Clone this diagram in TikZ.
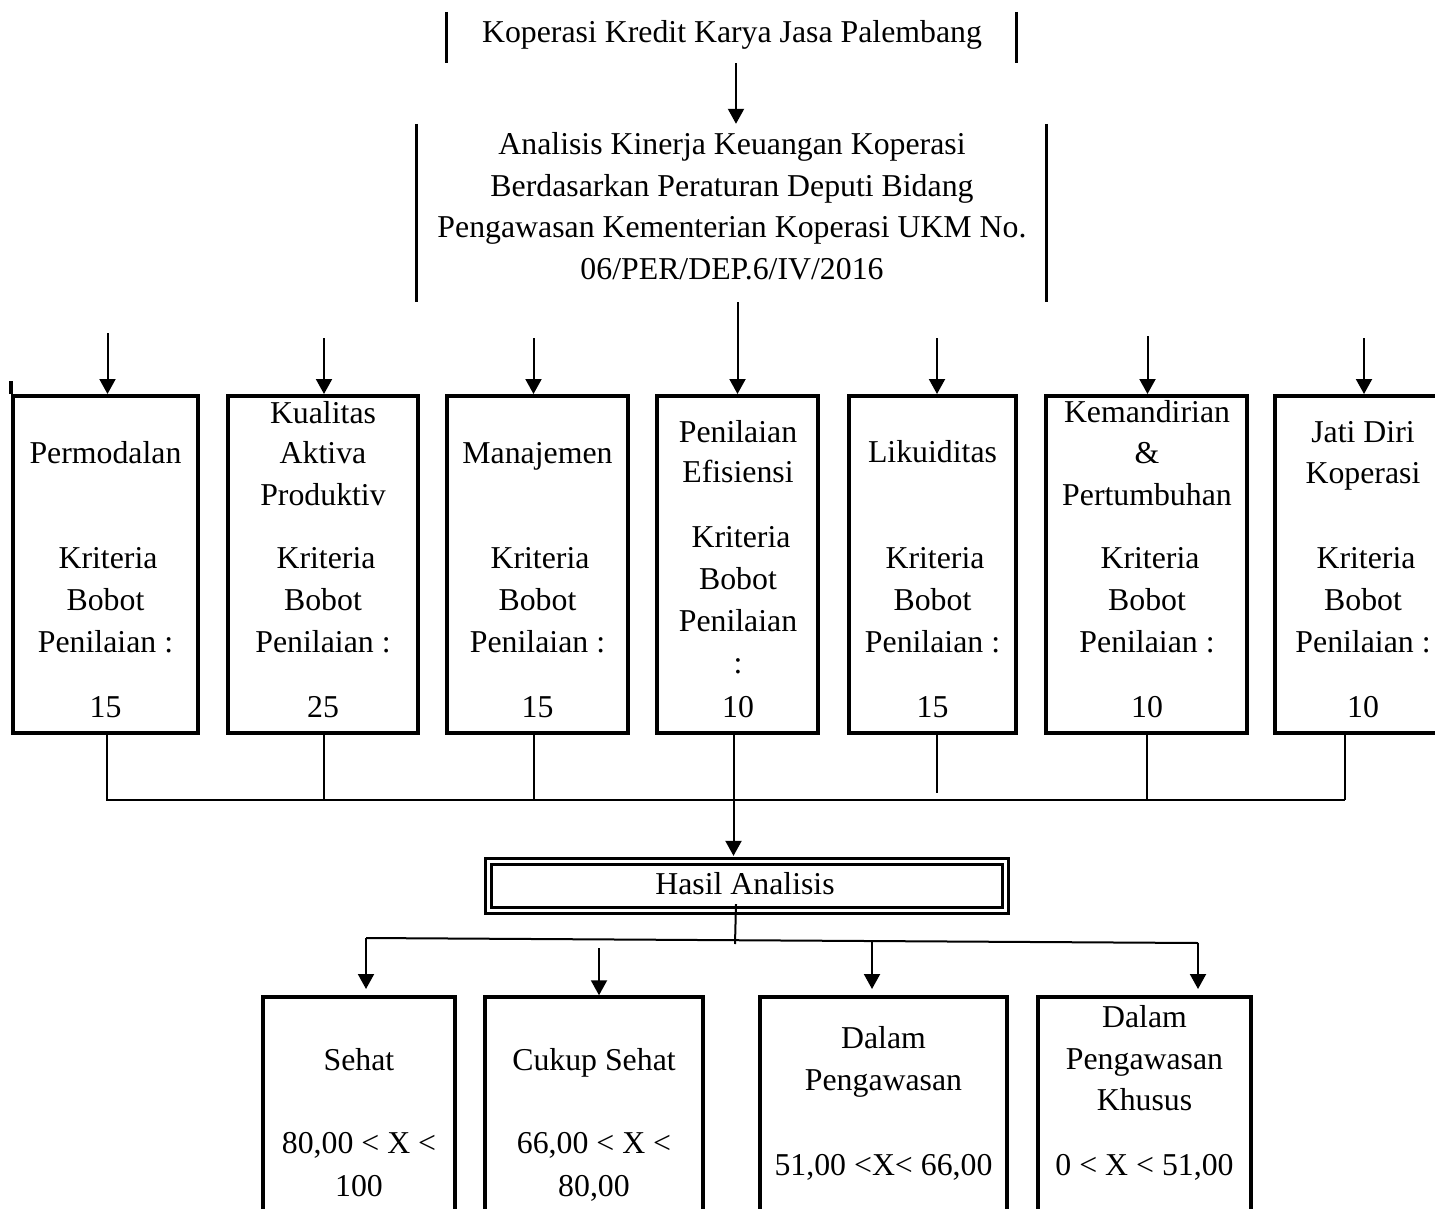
\documentclass[tikz,border=0pt]{standalone}
\usepackage{fontspec}
\setmainfont{Liberation Serif}
\usetikzlibrary{arrows.meta}
\begin{document}
\begin{tikzpicture}[x=1pt,y=-1pt,
  txt/.style={inner sep=0pt, anchor=base, font=\fontsize{31.8}{42}\selectfont},
  mbox/.style={draw, line width=4pt, minimum height=337pt, inner sep=0pt},
  sbox/.style={draw, line width=3.5pt, minimum height=243pt, inner sep=0pt},
  frame/.style={minimum width=#1, inner sep=0pt},
  bar/.style={line width=3.2pt},
  conn/.style={line width=2pt},
  arr/.style={line width=2pt, -{Triangle[length=15pt,width=16pt]}},
]
\useasboundingbox (0,0) rectangle (1435,1209);
\fill[white] (0,0) rectangle (1435,1209);
\clip (0,0) rectangle (1435,1209);

% ---------- top block ----------
\node[frame=569pt, minimum height=51pt] (top) at (731.5,37.5) {};
\draw[bar] (top.north west) -- (top.south west);
\draw[bar] (top.north east) -- (top.south east);
\node[txt] (toptext) at (732,43) {Koperasi Kredit Karya Jasa Palembang};

% ---------- second block ----------
\node[frame=629pt, minimum height=178pt] (mid) at (731.5,213) {};
\draw[bar] (mid.north west) -- (mid.south west);
\draw[bar] (mid.north east) -- (mid.south east);
\node[txt] (m1) at (732,155) {Analisis Kinerja Keuangan Koperasi};
\node[txt] (m2) at (732,197) {Berdasarkan Peraturan Deputi Bidang};
\node[txt] (m3) at (732,238) {Pengawasan Kementerian Koperasi UKM No.};
\node[txt] (m4) at (732,279) {06/PER/DEP.6/IV/2016};

\draw[arr] ([xshift=4.5pt]top.south) -- ([xshift=4.5pt]mid.north);

% ---------- criteria boxes ----------
\node[mbox, minimum width=185pt] (b1) at (105.5,564.5) {};
\node[mbox, minimum width=190pt] (b2) at (323,564.5) {};
\node[mbox, minimum width=181pt] (b3) at (537.5,564.5) {};
\node[mbox, minimum width=161pt] (b4) at (737.5,564.5) {};
\node[mbox, minimum width=167pt] (b5) at (932.5,564.5) {};
\node[mbox, minimum width=201pt] (b6) at (1146.5,564.5) {};
\node[mbox, minimum width=178pt] (b7) at (1364,564.5) {};
\draw[line width=4pt] (b1.north west) -- ++(0,-13);

% box 1
\node[txt] (b1a) at (105.5,463) {Permodalan};
\node[txt] (b1b) at (108,568) {Kriteria};
\node[txt] (b1c) at (105.5,610) {Bobot};
\node[txt] (b1d) at (105.5,652) {Penilaian :};
\node[txt] (b1e) at (105.5,717) {15};
% box 2
\node[txt] (b2a) at (323,423) {Kualitas};
\node[txt] (b2b) at (323,463) {Aktiva};
\node[txt] (b2c) at (323,505) {Produktiv};
\node[txt] (b2d) at (326,568) {Kriteria};
\node[txt] (b2e) at (323,610) {Bobot};
\node[txt] (b2f) at (323,652) {Penilaian :};
\node[txt] (b2g) at (323,717) {25};
% box 3
\node[txt] (b3a) at (537.5,463) {Manajemen};
\node[txt] (b3b) at (540,568) {Kriteria};
\node[txt] (b3c) at (537.5,610) {Bobot};
\node[txt] (b3d) at (537.5,652) {Penilaian :};
\node[txt] (b3e) at (537.5,717) {15};
% box 4
\node[txt] (b4a) at (738,442) {Penilaian};
\node[txt] (b4b) at (738,482) {Efisiensi};
\node[txt] (b4c) at (741,547) {Kriteria};
\node[txt] (b4d) at (738,589) {Bobot};
\node[txt] (b4e) at (738,631) {Penilaian};
\node[txt] (b4f) at (738,673) {:};
\node[txt] (b4g) at (738,717) {10};
% box 5
\node[txt] (b5a) at (932.5,462) {Likuiditas};
\node[txt] (b5b) at (935,568) {Kriteria};
\node[txt] (b5c) at (932.5,610) {Bobot};
\node[txt] (b5d) at (932.5,652) {Penilaian :};
\node[txt] (b5e) at (932.5,717) {15};
% box 6
\node[txt] (b6a) at (1147,422) {Kemandirian};
\node[txt] (b6b) at (1147,463) {\&};
\node[txt] (b6c) at (1147,505) {Pertumbuhan};
\node[txt] (b6d) at (1150,568) {Kriteria};
\node[txt] (b6e) at (1147,610) {Bobot};
\node[txt] (b6f) at (1147,652) {Penilaian :};
\node[txt] (b6g) at (1147,717) {10};
% box 7
\node[txt] (b7a) at (1363,442) {Jati Diri};
\node[txt] (b7b) at (1363,483) {Koperasi};
\node[txt] (b7c) at (1366,568) {Kriteria};
\node[txt] (b7d) at (1363,610) {Bobot};
\node[txt] (b7e) at (1363,652) {Penilaian :};
\node[txt] (b7f) at (1363,717) {10};

% arrows into criteria boxes
\draw[arr] ([xshift=2pt,yshift=61pt]b1.north) -- ([xshift=2pt]b1.north);
\draw[arr] ([xshift=1pt,yshift=56pt]b2.north) -- ([xshift=1pt]b2.north);
\draw[arr] ([xshift=-4pt,yshift=56pt]b3.north) -- ([xshift=-4pt]b3.north);
\draw[arr] (b4.north |- mid.south) -- (b4.north);
\draw[arr] ([xshift=4.5pt,yshift=56pt]b5.north) -- ([xshift=4.5pt]b5.north);
\draw[arr] ([xshift=1pt,yshift=58pt]b6.north) -- ([xshift=1pt]b6.north);
\draw[arr] ([yshift=56pt]b7.north) -- (b7.north);

% collecting lines
\coordinate (hl) at (0,800);
\coordinate (hr) at (1345,800);
\draw[conn] ([xshift=1.5pt]b1.south) -- ([xshift=1.5pt]b1.south |- hl) -- (hr);
\draw[conn] ([xshift=1pt]b2.south) -- ([xshift=1pt]b2.south |- hl);
\draw[conn] ([xshift=-3.5pt]b3.south) -- ([xshift=-3.5pt]b3.south |- hl);
\draw[conn] ([xshift=4.5pt]b5.south) -- ([xshift=4.5pt,yshift=7pt]b5.south |- hl);
\draw[conn] (b6.south) -- (b6.south |- hl);
\draw[conn] (hr) -- (hr |- b7.south);

% ---------- result ----------
\node[draw, double, line width=3.3pt, double distance=2.5pt, minimum width=517pt,
      minimum height=49pt, inner sep=0pt] (hasil) at (747,886) {};
\node[txt] (hasilt) at (745,894) {Hasil Analisis};
\draw[arr, shorten >=4pt] ([xshift=-4pt]b4.south) -- ([xshift=-4pt]b4.south |- hasil.north);

% distribution line
\coordinate (hb) at (735,944);
\coordinate (la) at (366,938);
\coordinate (lb) at (599,948);
\coordinate (lc) at (872,940.5);
\coordinate (ld) at (1198,943);
\coordinate (ta) at (366,989);
\coordinate (tc) at (872,989);
\coordinate (td) at (1198,989);
\draw[conn] ([xshift=-11pt,yshift=8pt]hasil.south) -- (hb);
\draw[conn] (la) -- (ld);

% ---------- category boxes ----------
\node[sbox, minimum width=192pt] (s1) at (359,1118.5) {};
\node[sbox, minimum width=218pt] (s2) at (594,1118.5) {};
\node[sbox, minimum width=247pt] (s3) at (883.5,1118.5) {};
\node[sbox, minimum width=213pt] (s4) at (1144.5,1118.5) {};

\draw[arr] (la) -- (ta);
\draw[arr] (lb) -- (lb |- s2.north);
\draw[arr] (lc) -- (tc);
\draw[arr] (ld) -- (td);

\node[txt] (s1a) at (359,1070) {Sehat};
\node[txt] (s1b) at (359,1153) {80,00 < X <};
\node[txt] (s1c) at (359,1196) {100};
\node[txt] (s2a) at (594,1070) {Cukup Sehat};
\node[txt] (s2b) at (594,1153) {66,00 < X <};
\node[txt] (s2c) at (594,1196) {80,00};
\node[txt] (s3a) at (883.5,1048) {Dalam};
\node[txt] (s3b) at (883.5,1090) {Pengawasan};
\node[txt] (s3c) at (883.5,1175) {51,00 <X< 66,00};
\node[txt] (s4a) at (1144.5,1027) {Dalam};
\node[txt] (s4b) at (1144.5,1069) {Pengawasan};
\node[txt] (s4c) at (1144.5,1110) {Khusus};
\node[txt] (s4d) at (1144.5,1175) {0 < X < 51,00};
\end{tikzpicture}
\end{document}
